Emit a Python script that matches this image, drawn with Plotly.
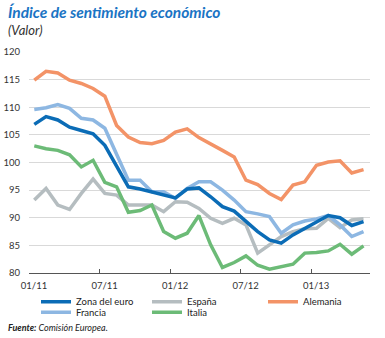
import plotly.graph_objects as go

months = list(range(29))  # Jan 2011 .. May 2013
tick_vals = [0, 6, 12, 18, 24]
tick_text = ["01/11", "07/11", "01/12", "07/12", "01/13"]

zona_euro = [106.9, 108.3, 107.7, 106.4, 105.8, 105.2, 103.1, 99.5, 95.6, 95.2,
             94.7, 94.1, 93.6, 95.2, 95.4, 93.8, 92.0, 91.2, 89.3, 87.5,
             86.0, 85.4, 86.9, 88.1, 89.3, 90.4, 90.0, 88.6, 89.3]
francia = [109.6, 109.9, 110.5, 109.8, 108.0, 107.7, 106.2, 101.4, 96.8, 96.8,
           94.7, 94.7, 93.5, 95.3, 96.5, 96.5, 95.0, 93.2, 91.1, 90.7,
           90.2, 87.2, 88.7, 89.4, 89.8, 90.4, 88.7, 86.6, 87.5]
espana = [93.2, 95.3, 92.3, 91.5, 94.4, 97.0, 94.4, 94.1, 92.3, 92.3,
          92.3, 91.1, 92.9, 92.8, 91.7, 89.9, 89.0, 89.9, 88.7, 83.6,
          85.1, 86.6, 87.5, 88.0, 88.1, 89.9, 88.2, 89.6, 89.8]
italia = [103.0, 102.5, 102.2, 101.4, 99.2, 100.4, 96.4, 95.6, 91.0, 91.3,
          92.3, 87.5, 86.3, 87.2, 90.4, 85.1, 81.0, 81.9, 83.1, 81.4,
          80.7, 81.1, 81.6, 83.6, 83.7, 84.0, 85.2, 83.4, 84.9]
alemania = [114.9, 116.5, 116.2, 114.9, 114.3, 113.4, 112.0, 106.7, 104.6, 103.6,
            103.4, 104.0, 105.5, 106.1, 104.5, 103.4, 102.2, 101.0, 96.8, 96.0,
            94.4, 93.3, 95.9, 96.5, 99.5, 100.1, 100.3, 98.1, 98.7]

x = [m + 0.45 for m in months]

W, H = 385, 338
ML, MR, MT, MB = 29, 15, 52, 65
pw = W - ML - MR
ph = H - MT - MB


def px(xp):
    return (xp - ML) / pw


def py(yp):
    return (H - MB - yp) / ph


# name, values, colour, legend id, legend text-left pixel, legend row centre pixel
series = [
    ("Zona del euro", zona_euro, "#0b6cb6", "legend", 78, 301.7),
    ("España", espana, "#b5bdc0", "legend2", 189, 301.7),
    ("Alemania", alemania, "#f39367", "legend3", 305, 301.7),
    ("Francia", francia, "#8db7e2", "legend4", 78, 312.3),
    ("Italia", italia, "#6cbb77", "legend5", 189, 312.3),
]
draw_order = ["España", "Italia", "Alemania", "Francia", "Zona del euro"]

font_main = "Lato, 'Open Sans', sans-serif"

fig = go.Figure()
legend_layouts = {}
for name in draw_order:
    for n, vals, col, lg, tx, ty in series:
        if n == name:
            fig.add_trace(go.Scatter(x=x, y=vals, name=n, mode="lines",
                                     line=dict(color=col, width=3.5), legend=lg))
for n, vals, col, lg, tx, ty in series:
    legend_layouts[lg] = dict(orientation="h", x=px(tx - 42), xanchor="left",
                              y=py(ty), yanchor="middle",
                              font=dict(size=9.5, color="#222", family=font_main),
                              bgcolor="rgba(0,0,0,0)", itemwidth=30)

fig.update_layout(
    width=W, height=H,
    margin=dict(l=ML, r=MR, t=MT, b=MB, autoexpand=False),
    paper_bgcolor="white", plot_bgcolor="white",
    font=dict(family=font_main, size=10, color="#333333"),
    showlegend=True,
    xaxis=dict(range=[0, 29], tickmode="array", tickvals=tick_vals, ticktext=tick_text,
               showgrid=False, zeroline=False, showline=True, linecolor="#555555",
               linewidth=1, ticks="inside", ticklen=4, tickcolor="#555555",
               ticklabelshift=5, ticklabelstandoff=4,
               tickfont=dict(size=9.5, color="#333")),
    yaxis=dict(range=[80, 120], tickvals=[80, 85, 90, 95, 100, 105, 110, 115, 120],
               showgrid=True, gridcolor="#d9d9d9", gridwidth=1, zeroline=False,
               showline=False, ticks="", ticklabelstandoff=8,
               tickfont=dict(size=9.5, color="#333")),
    **legend_layouts,
)

fig.add_annotation(text="<b><i>Índice de sentimiento económico</i></b>", x=px(6), y=py(12),
                   xref="paper", yref="paper", xanchor="left", yanchor="middle",
                   showarrow=False, font=dict(size=15.5, color="#1a74c4", family=font_main))
fig.add_annotation(text="<i>(Valor)</i>", x=px(6), y=py(30),
                   xref="paper", yref="paper", xanchor="left", yanchor="middle",
                   showarrow=False, font=dict(size=13, color="#333", family=font_main))
fig.add_annotation(text="<b><i>Fuente:</i></b><i> Comisión Europea.</i>", x=px(6), y=py(327),
                   xref="paper", yref="paper", xanchor="left", yanchor="middle",
                   showarrow=False, font=dict(size=9, color="#222", family=font_main))

fig.write_html("out.html")
